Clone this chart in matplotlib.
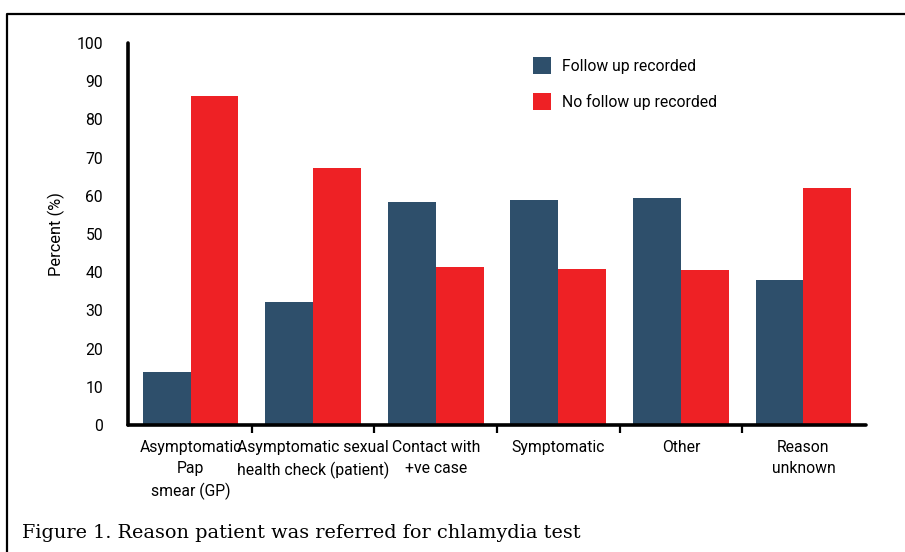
import matplotlib.pyplot as plt
from matplotlib.lines import Line2D
import numpy as np

# data
categories = ["Asymptomatic\nPap\nsmear (GP)", "Asymptomatic sexual\nhealth check (patient)",
              "Contact with\n+ve case", "Symptomatic", "Other", "Reason\nunknown"]
follow_up = [14, 32.3, 58.4, 58.9, 59.4, 38.0]
no_follow_up = [86.1, 67.3, 41.4, 40.8, 40.6, 62.0]
series_names = ["Follow up recorded", "No follow up recorded"]

blue = "#2e4f6b"
red = "#ee2125"
plt.rcParams["font.family"] = ["Roboto", "DejaVu Sans"]
fs = 11.3

fig = plt.figure(figsize=(9.05, 5.52), dpi=100)
ax = fig.add_axes([128 / 905, 1 - 425 / 552, (866 - 128) / 905, (425 - 43) / 552])

x = np.arange(len(categories))
w = 0.39
ax.bar(x - w / 2, follow_up, w, color=blue, label=series_names[0])
ax.bar(x + w / 2, no_follow_up, w, color=red, label=series_names[1])

ax.set_xlim(-0.51, 5.51)
ax.set_ylim(0, 100)

for s in ["top", "right"]:
    ax.spines[s].set_visible(False)
for s in ["left", "bottom"]:
    ax.spines[s].set_linewidth(2.6)
    ax.spines[s].set_capstyle("round")

# y labels without marks, marks only 10..90
ax.set_yticks(np.arange(0, 101, 10))
ax.set_yticklabels([str(v) for v in range(0, 101, 10)], fontsize=fs)
ax.tick_params(axis="y", length=0, pad=18)
ax.set_yticks(np.arange(10, 91, 10), minor=True)
ax.tick_params(axis="y", which="minor", length=8, width=1.6, direction="out")

# category labels, separators between groups
ax.set_xticks(x)
ax.set_xticklabels(categories, fontsize=fs, linespacing=1.5)
ax.tick_params(axis="x", length=0, pad=11)
ax.set_xticks(np.arange(0.5, 5, 1), minor=True)
ax.tick_params(axis="x", which="minor", length=6, width=1.6, direction="out")

ax.set_ylabel("Percent (%)", fontsize=fs + 0.5, labelpad=8)

leg = ax.legend(loc="upper left", bbox_to_anchor=(0.53, 1.0), frameon=False, fontsize=fs,
                handlelength=1.15, handleheight=1.3, handletextpad=0.65, labelspacing=1.2)

# frame around figure (top and left only) and caption
fig.add_artist(Line2D([7 / 905, 7 / 905, 1], [0, 1 - 14 / 552, 1 - 14 / 552],
                      color="black", linewidth=1.6, transform=fig.transFigure))
fig.text(22 / 905, 1 - 538 / 552, "Figure 1. Reason patient was referred for chlamydia test",
         fontsize=13.9, family=["DejaVu Serif"], va="baseline")

fig.savefig("out.png", dpi=100)
